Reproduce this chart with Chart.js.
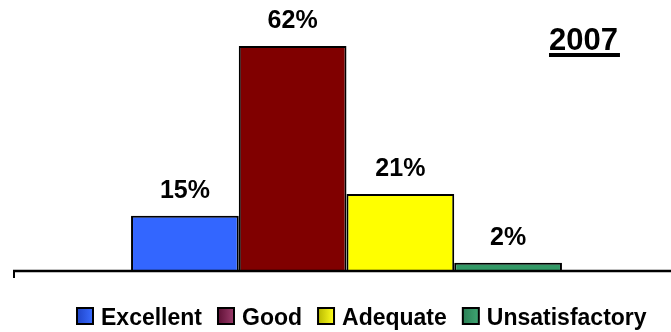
<!DOCTYPE html>
<html>
<head>
<meta charset="utf-8">
<script src="https://cdn.jsdelivr.net/npm/chart.js@4/dist/chart.umd.min.js"></script>
<style>
  html, body { margin: 0; padding: 0; background: #ffffff; }
  #wrap { width: 671px; height: 332px; }
</style>
</head>
<body>
<div id="wrap"><canvas id="c" width="671" height="332"></canvas></div>
<script>
// Survey year and rating breakdown (percent of responses)
const yearLabel = '2007';
const categories = ['2007'];
const ratingNames = ['Excellent', 'Good', 'Adequate', 'Unsatisfactory'];
const ratingValues = [15, 62, 21, 2];
const ratingColors = ['#3366FF', '#800000', '#FFFF00', '#339966'];
const legendShades = [
  ['#1f44c8', '#3a6cff'],
  ['#5e1035', '#9c3c6c'],
  ['#b8b800', '#ffff20'],
  ['#2a7f55', '#3fa673']
];
const FONT = '"Liberation Sans", Arial, Helvetica, sans-serif';

const datasets = ratingNames.map((name, i) => ({
  label: name,
  data: [ratingValues[i]],
  backgroundColor: ratingColors[i],
  borderColor: '#000000',
  borderWidth: 2,
  borderSkipped: 'bottom',
  barPercentage: 1.0,
  categoryPercentage: 0.664
}));

// Percent labels above each bar, baseline axis, year heading and legend
const decorations = {
  id: 'decorations',
  afterDatasetsDraw(chart) {
    const ctx = chart.ctx;
    const area = chart.chartArea;
    ctx.save();

    // base axis with a short tick at its left end
    ctx.strokeStyle = '#000000';
    ctx.lineWidth = 2.5;
    ctx.beginPath();
    ctx.moveTo(13, area.bottom + 1);
    ctx.lineTo(671, area.bottom + 1);
    ctx.stroke();
    ctx.lineWidth = 2;
    ctx.beginPath();
    ctx.moveTo(14, area.bottom);
    ctx.lineTo(14, area.bottom + 8);
    ctx.stroke();

    // value labels
    ctx.fillStyle = '#000000';
    ctx.font = 'bold 25px ' + FONT;
    ctx.textAlign = 'center';
    ctx.textBaseline = 'alphabetic';
    chart.data.datasets.forEach((ds, i) => {
      const bar = chart.getDatasetMeta(i).data[0];
      ctx.fillText(ds.data[0] + '%', bar.x, bar.y - 18);
    });

    // underlined year heading
    ctx.font = 'bold 31px ' + FONT;
    ctx.textAlign = 'left';
    const tx = 549;
    ctx.fillText(yearLabel, tx, 50);
    const tw = ctx.measureText(yearLabel).width;
    ctx.fillRect(tx, 53, tw + 2, 4);

    // legend row
    ctx.font = 'bold 23px ' + FONT;
    ctx.textBaseline = 'alphabetic';
    let x = 77;
    const boxY = 308, box = 16;
    ratingNames.forEach((name, i) => {
      const g = ctx.createLinearGradient(x, 0, x + box, 0);
      g.addColorStop(0, legendShades[i][0]);
      g.addColorStop(1, legendShades[i][1]);
      ctx.fillStyle = g;
      ctx.fillRect(x, boxY, box, box);
      ctx.strokeStyle = '#000000';
      ctx.lineWidth = 2;
      ctx.strokeRect(x, boxY, box, box);
      ctx.fillStyle = '#000000';
      const textX = x + box + 8;
      ctx.fillText(name, textX, 325);
      x = textX + ctx.measureText(name).width + 16;
    });

    ctx.restore();
  }
};

new Chart(document.getElementById('c'), {
  type: 'bar',
  data: { labels: categories, datasets: datasets },
  options: {
    responsive: false,
    animation: false,
    devicePixelRatio: 1,
    layout: { padding: { left: 22, right: 0, top: 17, bottom: 62 } },
    plugins: {
      legend: { display: false },
      tooltip: { enabled: false },
      title: { display: false }
    },
    scales: {
      x: { display: false },
      y: { display: false, min: 0, max: 70 }
    }
  },
  plugins: [decorations]
});
</script>
</body>
</html>
